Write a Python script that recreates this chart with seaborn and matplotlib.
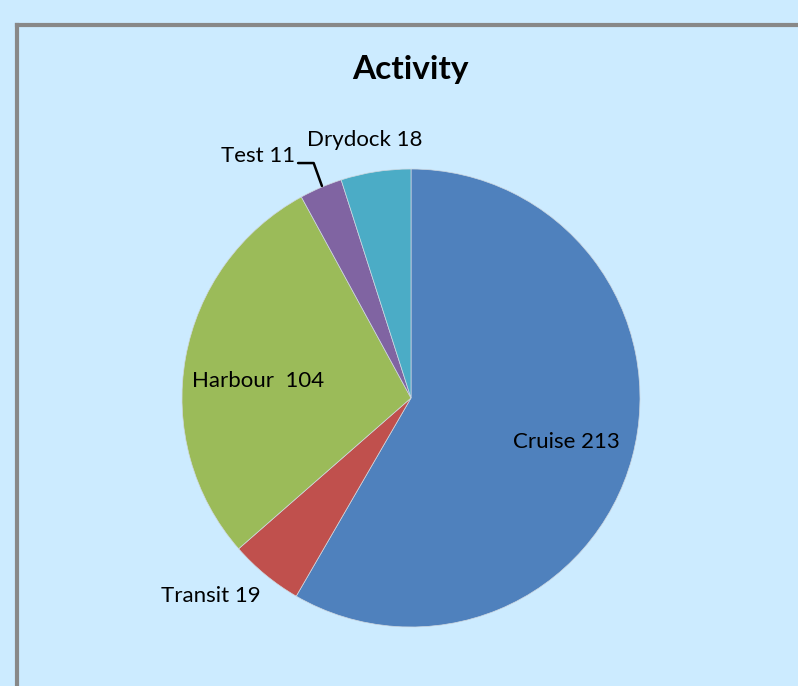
import matplotlib
matplotlib.use("Agg")
import matplotlib.pyplot as plt
import seaborn as sns

# activity breakdown (days)
activities = ["Cruise", "Transit", "Harbour", "Test", "Drydock"]
days = [213, 19, 104, 11, 18]
colors = ["#4F81BD", "#C0504D", "#9BBB59", "#8064A2", "#4BACC6"]
label_text = ["Cruise 213", "Transit 19", "Harbour  104", "Test 11", "Drydock 18"]

sns.set_style("white")
plt.rcParams["font.family"] = ["Lato", "DejaVu Sans"]

bg = "#CCEBFF"
fig = plt.figure(figsize=(7.98, 6.86), dpi=100, facecolor=bg)

# frame border (left + top visible)
frame = fig.add_axes([16.5 / 798, -0.05, 1.0, 1 - 24.5 / 686 + 0.05])
frame.set_facecolor(bg)
frame.set_xticks([])
frame.set_yticks([])
for side in ["right", "bottom"]:
    frame.spines[side].set_visible(False)
for side in ["left", "top"]:
    frame.spines[side].set_color("#888888")
    frame.spines[side].set_linewidth(3)

r = 229
cx, cy = 411, 398
ax = fig.add_axes([(cx - r) / 798, (686 - cy - r) / 686, 2 * r / 798, 2 * r / 686])
ax.set_facecolor("none")
ax.pie(days, colors=colors, startangle=90, counterclock=False, radius=1,
       wedgeprops=dict(linewidth=0.5, edgecolor="#cfd8e0"))
ax.set_xlim(-1, 1)
ax.set_ylim(-1, 1)
ax.set_aspect("equal")
ax.axis("off")

# label placement (data coords of the pie axes)
label_pos = [(0.68, -0.19), (-0.873, -0.865), (-0.668, 0.074), (-0.668, 1.057), (-0.2, 1.127)]
for txt, (x, y) in zip(label_text, label_pos):
    ax.text(x, y, txt, ha="center", va="center", fontsize=16, color="black", clip_on=False)

# leader line for the small Test slice
ax.plot([-0.493, -0.425, -0.389], [1.026, 1.026, 0.926], color="black", lw=1.8, clip_on=False)

fig.text(410 / 798, 1 - 70 / 686, "Activity", ha="center", va="center",
         fontsize=24, fontweight="bold", color="black")

fig.savefig("out.png", dpi=100, facecolor=bg)
